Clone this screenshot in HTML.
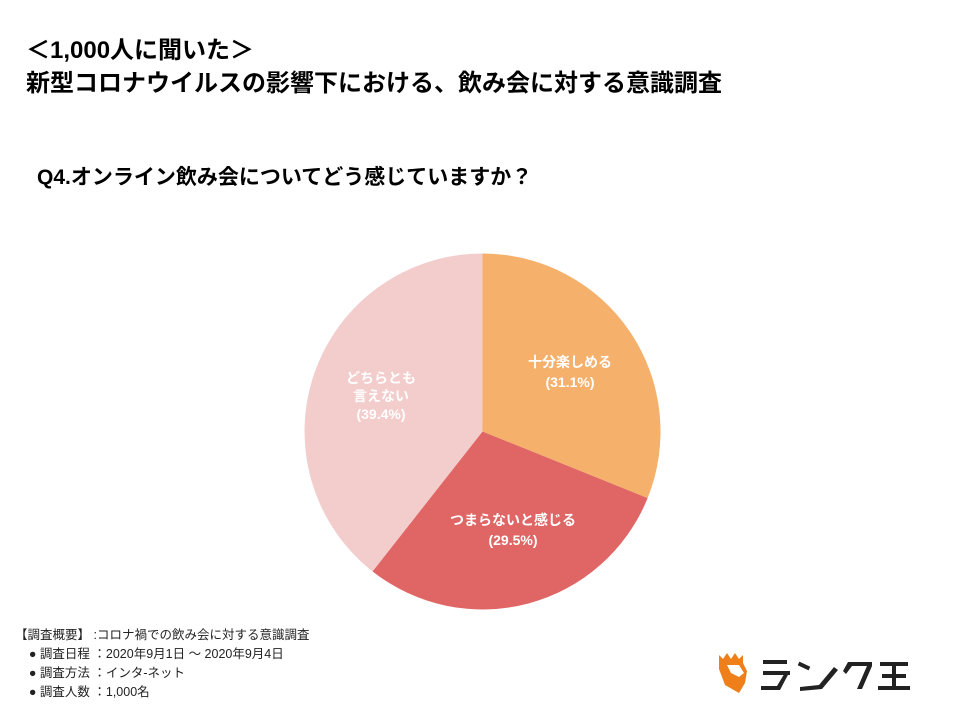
<!DOCTYPE html>
<html><head><meta charset="utf-8"><style>
body{margin:0;width:960px;height:720px;background:#fff;position:relative;overflow:hidden;font-family:"Liberation Sans","Noto Sans CJK JP",sans-serif;}
.t{position:absolute;white-space:nowrap;color:#000;}
</style></head><body>
<div class="t" style="left:26px;top:34px;font-size:24px;font-weight:bold;line-height:33px;">＜1,000人に聞いた＞<br>新型コロナウイルスの影響下における、飲み会に対する意識調査</div>
<div class="t" style="left:37px;top:161px;font-size:21px;font-weight:bold;">Q4.オンライン飲み会についてどう感じていますか？</div>
<svg style="position:absolute;left:0;top:0" width="960" height="720">
<path d="M482.5,431.5 L482.5,253.5 A178,178 0 0 1 647.6,498.1 Z" fill="#F5B06B"/>
<path d="M482.5,431.5 L647.6,498.1 A178,178 0 0 1 372.5,571.4 Z" fill="#E06666"/>
<path d="M482.5,431.5 L372.5,571.4 A178,178 0 0 1 482.5,253.5 Z" fill="#F3CCCC"/>
<g font-family="Liberation Sans,Noto Sans CJK JP,sans-serif" font-size="14" font-weight="bold" fill="#fff" text-anchor="middle">
<text x="570" y="367">十分楽しめる</text><text x="570" y="387">(31.1%)</text>
<text x="513" y="525">つまらないと感じる</text><text x="513" y="545">(29.5%)</text>
<text x="381" y="383">どちらとも</text><text x="381" y="401">言えない</text><text x="381" y="419">(39.4%)</text>
</g>
<g transform="translate(717,653)">
<path d="M2,2 L6,6 L10,0 L14,6 L18,0 L22,6 L26,2 L26,10 L30,18 L28,30 L22,40 L8,32 L2,16 Z" fill="#EE7F1A"/>
<path d="M10,12 L22,12 L27,20 L22,24 L14,20 Z" fill="#fff"/>
</g>
<g fill="#222">
<rect x="763" y="660" width="24" height="4"/><rect x="763" y="671" width="27" height="4"/><path d="M786,671 L790,671 L780,690 L761,690 L761,686 L777,686 Z"/>
<rect x="798" y="664" width="12" height="4" transform="rotate(25 804 666)"/><path d="M834,667 L838,670 L822,689 L800,691 L800,687 L819,685 Z"/>
<path d="M848,662 L872,662 L872,666 L862,689 L857,689 L867,666 L852,666 L846,674 L843,671 Z"/>
<rect x="880" y="662" width="28" height="4"/><rect x="882" y="674" width="24" height="4"/><rect x="878" y="686" width="32" height="4"/><rect x="892" y="662" width="4" height="26"/>
</g>
</svg>
<div class="t" style="left:15px;top:626px;font-size:12.5px;line-height:19px;color:#222;">【調査概要】 :コロナ禍での飲み会に対する意識調査<br>&nbsp;&nbsp;&nbsp;&nbsp;● 調査日程 ：2020年9月1日 ～ 2020年9月4日<br>&nbsp;&nbsp;&nbsp;&nbsp;● 調査方法 ：インタ-ネット<br>&nbsp;&nbsp;&nbsp;&nbsp;● 調査人数 ：1,000名</div>
</body></html>
